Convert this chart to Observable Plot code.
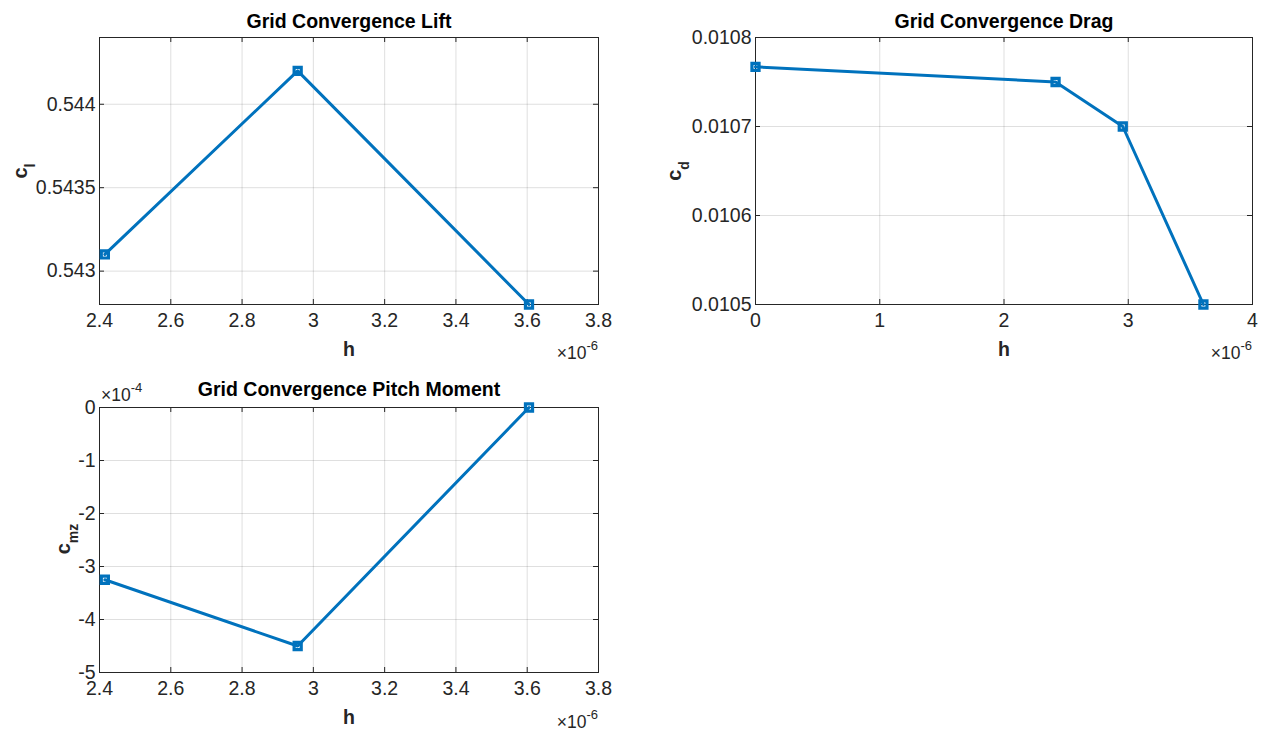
<!DOCTYPE html>
<html>
<head>
<meta charset="utf-8">
<script src="https://cdn.jsdelivr.net/npm/d3@7"></script>
<script src="https://cdn.jsdelivr.net/npm/@observablehq/plot@0.6"></script>
<style>
  body { margin: 0; background: #fff; }
  #fig { position: relative; width: 1266px; height: 731px; font-family: "Liberation Sans", Arial, Helvetica, sans-serif; color: #262626; overflow: hidden; }
  #fig svg { position: absolute; overflow: visible; }
  #fig svg g[aria-label="x-axis tick label"],
  #fig svg g[aria-label="y-axis tick label"] { font-size: 19.5px !important; }
  .ylab { position: absolute; font-weight: bold; font-size: 20px; line-height: 1; white-space: nowrap; transform: translate(-50%, -50%) rotate(-90deg); color: #262626; }
  .ylab sub { font-size: 14px; vertical-align: baseline; position: relative; top: 8px; }
  .exp { position: absolute; font-size: 17.5px; line-height: 1; white-space: nowrap; color: #262626; }
  .exp sup { font-size: 13px; vertical-align: baseline; position: relative; top: -9px; }
</style>
</head>
<body>
<div id="fig"></div>
<script>
// Grid spacing h (in units of 10^-6) for the three meshes
const hGrid = [2.415, 2.956, 3.605];
// Lift coefficient per mesh
const cl = [0.5431, 0.5442, 0.5428];
// Drag: h = 0 is the extrapolated value, then the three meshes
const hDrag = [0, 2.415, 2.956, 3.605];
const cd = [0.010767, 0.01075, 0.0107, 0.0105];
// Pitch moment coefficient per mesh (in units of 10^-4)
const cmz = [-3.25, -4.5, 0];

// Axis ticks
const hTicks = [2.4, 2.6, 2.8, 3, 3.2, 3.4, 3.6, 3.8];
const hDragTicks = [0, 1, 2, 3, 4];
const clTicks = [0.543, 0.5435, 0.544];
const cdTicks = [0.0105, 0.0106, 0.0107, 0.0108];
const cmzTicks = [-5, -4, -3, -2, -1, 0];

const BLUE = "#0072BD";
const INK = "#262626";
const FONT = "'Liberation Sans', Arial, Helvetica, sans-serif";
const fig = document.getElementById("fig");

function panel({left, top, width, height, margin, xDomain, yDomain, xTicks, yTicks, xs, ys, title, titleDy, hDy}) {
  const [mt, mr, mb, ml] = margin;
  const W = width - ml - mr, H = height - mt - mb;
  const data = xs.map((x, i) => ({x, y: ys[i]}));
  const tick = 5;
  const svg = Plot.plot({
    width, height,
    marginTop: mt, marginRight: mr, marginBottom: mb, marginLeft: ml,
    style: {fontFamily: FONT, fontSize: "19.5px", color: INK, background: "transparent"},
    x: {domain: xDomain, label: null},
    y: {domain: yDomain, label: null},
    marks: [
      Plot.gridX(xTicks, {stroke: INK, strokeOpacity: 0.15}),
      Plot.gridY(yTicks, {stroke: INK, strokeOpacity: 0.15}),
      // inward ticks on all four sides
      Plot.tickX(xTicks, {x: d => d, insetTop: H - tick, stroke: INK}),
      Plot.tickX(xTicks, {x: d => d, insetBottom: H - tick, stroke: INK}),
      Plot.tickY(yTicks, {y: d => d, insetRight: W - tick, stroke: INK}),
      Plot.tickY(yTicks, {y: d => d, insetLeft: W - tick, stroke: INK}),
      Plot.frame({stroke: INK, strokeWidth: 1}),
      Plot.axisX(xTicks, {tickSize: 0, tickPadding: 9, tickFormat: d => String(d), fontSize: 19.5, fill: INK}),
      Plot.axisY(yTicks, {tickSize: 0, tickPadding: 4, tickFormat: d => String(d), fontSize: 19.5, fill: INK}),
      Plot.line(data, {x: "x", y: "y", stroke: BLUE, strokeWidth: 3}),
      Plot.dot(data, {x: "x", y: "y", symbol: "square", r: 4, stroke: BLUE, strokeWidth: 3.2, fill: "none"}),
      Plot.text([title], {frameAnchor: "top", lineAnchor: "top", dy: titleDy, text: d => d, fontWeight: "bold", fontSize: 19.5, fill: "#000"}),
      Plot.text(["h"], {frameAnchor: "bottom", lineAnchor: "top", dy: hDy, text: d => d, fontWeight: "bold", fontSize: 19.5, fill: INK})
    ]
  });
  svg.style.left = left + "px";
  svg.style.top = top + "px";
  fig.appendChild(svg);
}

function html(cls, style, inner) {
  const el = document.createElement("div");
  el.className = cls;
  Object.assign(el.style, style);
  el.innerHTML = inner;
  fig.appendChild(el);
}

panel({left: 0, top: 0, width: 633, height: 370, margin: [37, 35, 66, 99],
  xDomain: [2.4, 3.8], yDomain: [0.5428, 0.5444], xTicks: hTicks, yTicks: clTicks,
  xs: hGrid, ys: cl, title: "Grid Convergence Lift", titleDy: -23, hDy: 38});

panel({left: 633, top: 0, width: 633, height: 370, margin: [37, 14, 66, 122],
  xDomain: [0, 4], yDomain: [0.0105, 0.0108], xTicks: hDragTicks, yTicks: cdTicks,
  xs: hDrag, ys: cd, title: "Grid Convergence Drag", titleDy: -23, hDy: 38});

panel({left: 0, top: 370, width: 633, height: 361, margin: [37, 35, 59, 99],
  xDomain: [2.4, 3.8], yDomain: [-5, 0], xTicks: hTicks, yTicks: cmzTicks,
  xs: hGrid, ys: cmz, title: "Grid Convergence Pitch Moment", titleDy: -25, hDy: 38});

// axis labels with sub/superscripts
html("ylab", {left: "20px", top: "171px"}, "c<sub>l</sub>");
html("ylab", {left: "674px", top: "171px"}, "c<sub>d</sub>");
html("ylab", {left: "63px", top: "539px"}, "c<sub>mz</sub>");
html("exp", {right: (1266 - 598) + "px", top: "345px"}, "×10<sup>-6</sup>");
html("exp", {right: (1266 - 1252) + "px", top: "345px"}, "×10<sup>-6</sup>");
html("exp", {right: (1266 - 598) + "px", top: "714px"}, "×10<sup>-6</sup>");
html("exp", {left: "101px", top: "387px"}, "×10<sup>-4</sup>");
</script>
</body>
</html>
